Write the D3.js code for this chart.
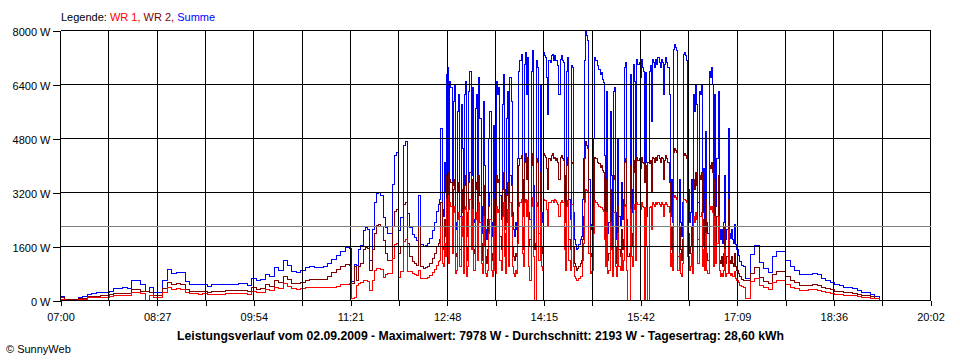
<!DOCTYPE html>
<html><head><meta charset="utf-8">
<script src="https://cdn.jsdelivr.net/npm/d3@7"></script>
<style>
body{margin:0;background:#fff}
svg{display:block}
text{font-family:"Liberation Sans",Arial,sans-serif;fill:#000}
</style>
</head><body>
<svg id="chart" width="960" height="360"></svg>
<script>
// sample times in minutes since midnight (coarser in calm parts, finer in the noisy midday)
const sampleMinutes = [
  ...d3.range(420, 680, 4),
  ...d3.range(680, 760, 2),
  ...d3.range(760, 1030, 1),
  ...d3.range(1030, 1036, 2),
  ...d3.range(1036, 1160, 4)
];

// WR 2 (dark red) in W
const wr2 = [
 // 07:00 - 11:16 (4 min)
 80,30,20,20,60,70,110,120,130,140,150,170,220,220,220,210,330,340,260,260,230,150,150,350,520,460,490,480,320,280,280,270,280,240,270,280,280,285,285,290,290,300,280,380,340,360,460,420,580,520,700,620,510,500,520,600,620,610,610,620,700,830,920,1000,1080,
 // 11:20 - 12:38 (2 min)
 1050,500,1000,600,1000,1100,1500,1580,1550,900,1500,2000,2220,2250,2200,1780,1400,1200,1200,2200,2650,2700,1400,1600,2850,2900,1700,1300,1150,1100,1050,2200,1000,950,980,1000,1100,1250,1400,1600,
 // 12:40 - 17:09 (1 min)
 1700,1800,2900,1600,1500,2400,1900,3700,3800,1700,
 3600,3500,2000,3300,3600,1300,1400,3200,3500,1500,
 3300,2600,1300,3400,3700,1200,1600,3500,3800,2200,
 3600,1400,1500,3300,3500,1800,3700,3100,1700,1200,
 3400,2400,1300,1100,1500,2800,3200,1400,1200,3000,
 1400,1300,3700,3500,3600,1900,1500,3300,3800,2000,
 1300,3100,3500,1500,3700,3400,1600,1300,1200,1400,
 1300,2500,4000,4200,4300,2200,1500,4100,4350,3600,
 4250,1600,1800,4000,4350,2100,1500,1700,4200,4100,
 2000,3800,1600,1400,4350,4300,4250,3900,3300,4200,
 4150,4300,4350,4200,4250,4150,4200,4100,3600,4250,
 4300,4200,4150,2200,1400,4000,4250,1800,1500,4100,
 4050,1600,1100,1000,900,950,1000,1100,1200,1800,
 2500,4200,4700,4600,4500,2200,1300,1400,1500,2800,
 4250,4200,4200,4100,4050,3950,4000,3850,3800,2500,
 1500,3600,1200,1400,3300,2200,1300,3600,3700,1600,
 1100,2800,1500,1300,2100,1500,1800,4100,4200,1500,
 1300,1400,4000,2000,1600,4150,3800,1900,4250,4150,
 4200,3900,4250,4100,4050,3500,4000,2500,4100,4050,
 4150,3200,4250,4200,4100,4250,4150,4300,4200,4100,
 4250,4200,3600,4150,4300,4200,4100,3500,1500,2200,
 1400,4400,4500,4450,4400,1300,2200,1500,1200,1800,
 4300,4350,4300,4200,2000,1400,1600,2200,1300,3600,
 3300,3800,3400,1800,3700,3600,3800,1600,2400,1300,
 3000,1400,1200,4000,3900,4100,3800,1500,3600,1700,
 2500,3700,1200,1100,1300,1000,1400,2200,1100,1300,
 3000,1200,1100,1300,1100,1000,1400,1000,900,800,
 // 17:10 - 17:14 (2 min)
 700,620,600,
 // 17:16 - 19:16 (4 min)
 600,790,970,680,560,500,780,870,860,720,600,520,450,450,450,470,450,390,360,320,280,260,240,230,210,180,150,140,110,70,0
];

// WR 1 (red) in W
const wr1 = [
 // 07:00 - 11:16 (4 min)
 30,10,10,10,40,40,80,90,100,100,100,110,150,150,160,160,250,250,200,0,150,100,100,250,390,330,350,340,230,200,200,190,200,170,190,190,190,195,195,195,200,210,170,260,240,250,320,300,400,360,500,420,350,340,360,390,390,380,380,390,400,390,420,460,480,
 // 11:20 - 12:38 (2 min)
 500,60,80,450,500,520,580,580,560,300,600,900,950,950,920,690,770,800,800,1250,1650,1700,670,870,1750,1800,870,870,800,780,730,900,650,650,660,680,730,820,920,1050,
 // 12:40 - 17:09 (1 min)
 1150,1200,2200,1100,1000,1700,1300,3000,3100,1100,
 2900,2800,1400,2600,2800,800,900,2400,2600,1000,
 2500,1900,800,2700,2800,700,1000,2700,3000,1500,
 2700,900,900,2400,2600,1200,2900,2300,1100,800,
 2500,1600,800,700,900,2000,2400,900,700,2200,
 900,800,2800,2600,2700,1200,900,2500,2900,1300,
 800,2300,2700,1000,2900,2500,1000,800,700,900,
 800,1700,2800,2900,3000,1400,1000,2900,3000,2500,
 2950,1000,600,2800,3050,1300,0,0,2900,2800,
 1200,2600,1000,900,3000,2950,2950,2700,2200,2900,
 2900,2950,2950,2900,3000,2950,2900,2850,2500,2900,
 2950,2900,2900,1500,900,2800,2950,1200,900,2850,
 2850,1000,700,650,600,600,650,700,700,1200,
 1700,2900,3278,3250,3200,1400,800,850,900,2000,
 2950,2900,2900,2850,2800,2750,2750,2700,2650,1800,
 1000,2600,800,900,2300,1500,700,2600,2600,1000,
 700,2000,1000,900,1400,900,1200,2800,2850,900,
 0,0,2700,1300,1000,2850,2700,1200,2900,2850,
 2850,2700,2900,2800,2750,0,2750,1600,0,2750,
 2800,2100,2900,2850,2800,2900,2850,2900,2850,2800,
 2900,2850,2500,2850,2900,2850,2800,2600,1000,1400,
 900,3050,3100,3050,3000,900,1400,800,700,1100,
 3000,3000,2950,2900,1300,900,1000,1400,800,2500,
 2300,2600,2400,1100,2500,2500,2600,1000,1500,900,
 2000,900,800,2800,2700,2800,2600,1000,2500,1100,
 1700,2500,900,700,800,700,900,1500,700,800,
 2100,800,750,800,700,700,850,650,600,520,
 // 17:10 - 17:14 (2 min)
 450,420,400,
 // 17:16 - 19:16 (4 min)
 60,560,650,450,400,340,520,590,580,480,400,360,310,310,320,330,310,260,240,210,180,170,160,150,140,120,100,90,70,50,0
];

// Summe = WR 1 + WR 2
const summe = wr1.map((v, i) => v + wr2[i]);

const yTickValues = [0, 1600, 3200, 4800, 6400, 8000];
const xTickLabels = ["07:00","08:27","09:54","11:21","12:48","14:15","15:42","17:09","18:36","20:02"];
const averageW = 2193;
const legendItems = [
  {label: "WR 1, ", color: "#ff0000"},
  {label: "WR 2, ", color: "#800000"},
  {label: "Summe", color: "#0000ff"}
];
const titleText = "Leistungsverlauf vom 02.09.2009 - Maximalwert: 7978 W - Durchschnitt: 2193 W - Tagesertrag: 28,60 kWh";

const svg = d3.select("#chart");
const x = d3.scaleLinear().domain([420, 1202]).range([60, 930]);
const y = d3.scaleLinear().domain([0, 8000]).range([300, 30]);
const gridTimes = d3.range(19).map(i => 420 + i * 782 / 18);

const g = svg.append("g").attr("transform", "translate(0.5,0.5)");

const lineGen = vals => d3.line()
  .x((d, i) => x(sampleMinutes[i]))
  .y(d => y(d))
  .curve(d3.curveStepAfter)(vals);

[[summe, "#0000ff"], [wr2, "#800000"], [wr1, "#ff0000"]].forEach(([vals, col]) => {
  g.append("path").attr("d", lineGen(vals))
    .attr("fill", "none").attr("stroke", col).attr("stroke-width", 1)
    .attr("shape-rendering", "crispEdges");
});

// grid (on top, as in the reference)
g.append("g").selectAll("line").data(yTickValues).join("line")
  .attr("x1", 60).attr("x2", 930).attr("y1", d => y(d)).attr("y2", d => y(d))
  .attr("stroke", "#000").attr("shape-rendering", "crispEdges");
g.append("g").selectAll("line").data(gridTimes).join("line")
  .attr("x1", d => x(d)).attr("x2", d => x(d)).attr("y1", 30).attr("y2", 300)
  .attr("stroke", "#000").attr("shape-rendering", "crispEdges");

// average line
g.append("line").attr("x1", 60).attr("x2", 930).attr("y1", y(averageW)).attr("y2", y(averageW))
  .attr("stroke", "#808080").attr("shape-rendering", "crispEdges");

// axes
const yAxis = d3.axisLeft(y).tickValues(yTickValues).tickSize(8).tickPadding(2)
  .tickFormat(d => d + " W");
const ya = g.append("g").attr("transform", "translate(60,0)").call(yAxis);
ya.select(".domain").remove();
ya.selectAll("line").attr("stroke", "#000").attr("shape-rendering", "crispEdges");
ya.selectAll("text").attr("font-size", 11).attr("font-family", "Liberation Sans, Arial, sans-serif")
  .attr("fill", "#000").attr("dy", "0.42em");

const xAxis = d3.axisBottom(x).tickValues(gridTimes).tickSize(5).tickPadding(8)
  .tickFormat((d, i) => i % 2 === 0 ? xTickLabels[i / 2] : "");
const xa = g.append("g").attr("transform", "translate(0,300)").call(xAxis);
xa.select(".domain").remove();
xa.selectAll("line").attr("stroke", "#000").attr("shape-rendering", "crispEdges");
xa.selectAll("text").attr("font-size", 11).attr("font-family", "Liberation Sans, Arial, sans-serif")
  .attr("fill", "#000");

// legend
const leg = svg.append("text").attr("x", 61).attr("y", 21).attr("font-size", 11);
leg.append("tspan").text("Legende: ").attr("fill", "#000");
legendItems.forEach(it => leg.append("tspan").text(it.label).attr("fill", it.color));

// title
svg.append("text").attr("x", 177).attr("y", 340).attr("font-size", 12).attr("font-weight", "bold")
  .attr("textLength", 607).attr("lengthAdjust", "spacingAndGlyphs").text(titleText);

// footer
svg.append("text").attr("x", 6).attr("y", 353).attr("font-size", 11).text("© SunnyWeb");
</script>
</body></html>
